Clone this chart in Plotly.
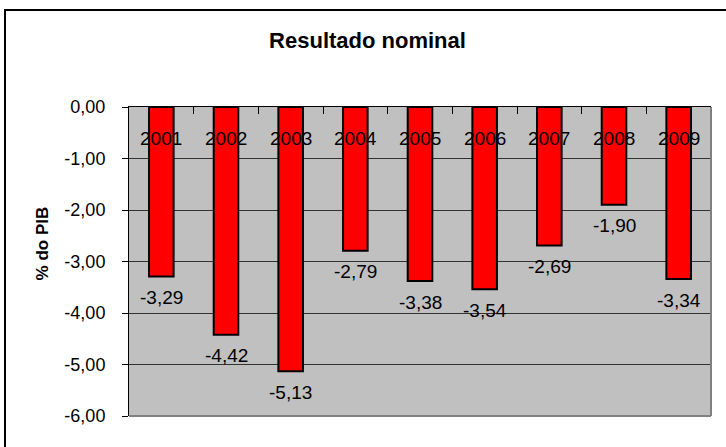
import plotly.graph_objects as go

years = ["2001", "2002", "2003", "2004", "2005", "2006", "2007", "2008", "2009"]
values = [-3.29, -4.42, -5.13, -2.79, -3.38, -3.54, -2.69, -1.90, -3.34]
ytick_vals = [0, -1, -2, -3, -4, -5, -6]
ytick_text = ["0,00", "-1,00", "-2,00", "-3,00", "-4,00", "-5,00", "-6,00"]
title_text = "Resultado nominal"
ytitle_text = "% do PIB"

FONT = "Liberation Sans, Arial, sans-serif"

fig = go.Figure()
fig.add_trace(go.Bar(
    x=years, y=values,
    marker=dict(color="#FF0000", line=dict(color="#000000", width=2)),
    hoverinfo="skip",
))

annotations = []
for i, (yr, v) in enumerate(zip(years, values)):
    annotations.append(dict(
        x=i, y=0, xref="x", yref="y", text=yr, showarrow=False,
        yanchor="middle", yshift=-31, font=dict(family=FONT, size=19, color="#000000"),
    ))
    annotations.append(dict(
        x=i, y=v, xref="x", yref="y", text=f"{v:.2f}".replace(".", ","), showarrow=False,
        yanchor="middle", yshift=-21, font=dict(family=FONT, size=19, color="#000000"),
    ))
annotations.append(dict(
    x=-0.1486, y=0.557, xref="paper", yref="paper", text=f"<b>{ytitle_text}</b>",
    showarrow=False, textangle=-90, xanchor="center", yanchor="middle",
    font=dict(family=FONT, size=17, color="#000000"),
))

fig.update_layout(
    width=726, height=447, autosize=False,
    margin=dict(l=129, r=15, t=107, b=31),
    paper_bgcolor="#FFFFFF", plot_bgcolor="#C0C0C0",
    showlegend=False, bargap=0.62,
    title=dict(text=f"<b>{title_text}</b>", x=0.5062, y=0.9105, xref="container", yref="container",
               xanchor="center", yanchor="middle", font=dict(family=FONT, size=22, color="#000000")),
    font=dict(family=FONT, size=18, color="#000000"),
    xaxis=dict(type="category", side="top", range=[-0.5, 8.5], showline=True, linecolor="#000000",
               linewidth=1, ticks="inside", ticklen=7, tickcolor="#000000", tickson="boundaries",
               showticklabels=False, showgrid=False, zeroline=False),
    yaxis=dict(range=[-6, 0], tickvals=ytick_vals, ticktext=ytick_text, showline=True,
               linecolor="#000000", linewidth=1, ticks="outside", ticklen=6, tickcolor="#000000",
               showgrid=True, gridcolor="#333333", gridwidth=1, zeroline=False,
               ticklabelstandoff=13, tickfont=dict(family=FONT, size=18, color="#000000")),
    annotations=annotations,
    shapes=[
        dict(type="line", xref="paper", yref="paper", x0=1, x1=1, y0=0, y1=1,
             line=dict(color="#808080", width=2), layer="above"),
        dict(type="line", xref="paper", yref="paper", x0=0, x1=1, y0=0, y1=0,
             line=dict(color="#808080", width=2), layer="above"),
        dict(type="rect", xref="paper", yref="paper", x0=-0.21306, x1=1.05, y0=-0.2, y1=1.31392,
             line=dict(color="#000000", width=2), layer="above"),
    ],
)

fig.write_html("out.html", config={"displayModeBar": False},
               post_script="document.body.style.margin='0';document.body.style.overflow='hidden';")
